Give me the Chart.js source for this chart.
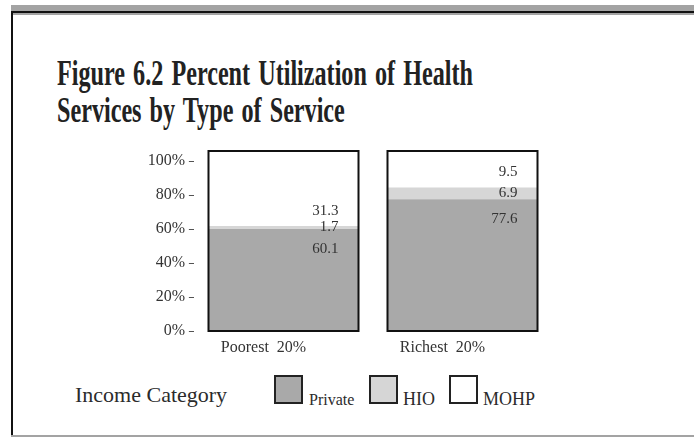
<!DOCTYPE html>
<html>
<head>
<meta charset="utf-8">
<script src="https://cdn.jsdelivr.net/npm/chart.js@4/dist/chart.umd.min.js"></script>
<style>
  body { margin: 0; width: 694px; height: 437px; background: #fff; position: relative; overflow: hidden;
         font-family: "Liberation Serif", "DejaVu Serif", serif; color: #2b2b2b; }
  .topbar { position: absolute; left: 11px; top: 5px; width: 683px; height: 10px; background: #a3a3a3; }
  .topbar::after { content: ''; position: absolute; left: 0; right: 0; top: 6px; height: 2px; background: #111; }
  .leftline { position: absolute; left: 11px; top: 11px; width: 2px; height: 424px; background: #111; }
  .bottomline { position: absolute; left: 11px; top: 435px; width: 683px; height: 2px; background: #a3a3a3; }
  #title { position: absolute; left: 57px; top: 55px; font-weight: bold; font-size: 35px; line-height: 37px;
           word-spacing: 3px; color: #222; transform-origin: 0 0; white-space: nowrap; }
  #chart-box { position: absolute; left: 0; top: 140px; width: 694px; height: 230px; }
  #legend { position: absolute; left: 0; top: 370px; width: 694px; height: 50px; }
  #legend .cat { position: absolute; left: 75px; top: 12px; font-size: 22px; }
  #legend .sw { position: absolute; top: 5px; width: 25px; height: 25px; border: 2px solid #222; }
  #legend .lbl { position: absolute; top: 19px; }
</style>
</head>
<body>
<div class="topbar"></div>
<div class="leftline"></div>
<div class="bottomline"></div>
<div id="title">Figure 6.2 Percent Utilization of Health<br>Services by Type of Service</div>
<div id="chart-box"><canvas id="chart"></canvas></div>
<div id="legend"><span class="cat">Income Category</span></div>
<script>
// income groups and share of visits by service type (%)
const categories = ['Poorest  20%', 'Richest  20%'];
const seriesNames = ['Private', 'HIO', 'MOHP'];
const privateVals = [60.1, 77.6];
const hioVals = [1.7, 6.9];
const mohpVals = [31.3, 9.5];
const yTicks = [0, 20, 40, 60, 80, 100];

const seriesColors = ['#a9a9a9', '#d6d6d6', '#ffffff'];
const serif = '"Liberation Serif", "DejaVu Serif", serif';

// squeeze the title into a condensed look
(function fitTitle() {
    const el = document.getElementById('title');
    const c = document.createElement('canvas').getContext('2d');
    c.font = 'bold 35px ' + serif;
    const line = 'Figure 6.2 Percent Utilization of Health';
    const w = c.measureText(line).width + 3 * (line.split(' ').length - 1);
    el.style.transform = 'scaleX(' + (416 / w) + ')';
})();

// legend: swatch + label for each series
const legendPos = [
    { box: 274, text: 309, size: 16 },
    { box: 369, text: 403, size: 18 },
    { box: 449, text: 483, size: 18 }
];
const legend = document.getElementById('legend');
seriesNames.forEach((name, i) => {
    const sw = document.createElement('span');
    sw.className = 'sw';
    sw.style.left = legendPos[i].box + 'px';
    sw.style.background = seriesColors[i];
    legend.appendChild(sw);
    const lbl = document.createElement('span');
    lbl.className = 'lbl';
    lbl.style.left = legendPos[i].text + 'px';
    lbl.style.fontSize = legendPos[i].size + 'px';
    lbl.style.marginTop = (18 - legendPos[i].size) + 'px';
    lbl.textContent = name;
    legend.appendChild(lbl);
});

// black frame around each bar column, running up to the top of the plot
const barFrame = {
    id: 'barFrame',
    afterDatasetsDraw(chart) {
        const ctx = chart.ctx;
        const y = chart.scales.y;
        const meta = chart.getDatasetMeta(0);
        ctx.save();
        ctx.strokeStyle = '#111';
        ctx.lineWidth = 2;
        meta.data.forEach(bar => {
            const half = bar.width / 2;
            ctx.strokeRect(bar.x - half, chart.chartArea.top, bar.width, y.getPixelForValue(0) - chart.chartArea.top);
        });
        ctx.restore();
    }
};

// value labels, right-aligned inside each column
const valueLabels = {
    id: 'valueLabels',
    afterDatasetsDraw(chart) {
        const ctx = chart.ctx;
        ctx.save();
        ctx.font = '15px ' + serif;
        ctx.fillStyle = '#333';
        ctx.textAlign = 'right';
        ctx.textBaseline = 'middle';
        chart.data.datasets.forEach((ds, di) => {
            chart.getDatasetMeta(di).data.forEach((bar, i) => {
                const top = Math.min(bar.y, bar.base);
                const bottom = Math.max(bar.y, bar.base);
                let ty;
                if (di === 0) ty = top + 20;
                else if (di === 1) ty = (top + bottom) / 2;
                else ty = bottom - 15;
                ctx.fillText(ds.data[i].toFixed(1), bar.x + bar.width / 2 - 20, ty);
            });
        });
        ctx.restore();
    }
};

const datasets = [privateVals, hioVals, mohpVals].map((vals, i) => ({
    label: seriesNames[i],
    data: vals,
    backgroundColor: seriesColors[i],
    borderWidth: 0,
    categoryPercentage: 1,
    barPercentage: 0.838
}));

new Chart(document.getElementById('chart'), {
    type: 'bar',
    data: { labels: categories, datasets: datasets },
    options: {
        responsive: true,
        maintainAspectRatio: false,
        animation: false,
        layout: { padding: { left: 140, right: 142, top: 11, bottom: 0 } },
        plugins: { legend: { display: false }, tooltip: { enabled: false } },
        scales: {
            x: {
                stacked: true,
                grid: { display: false, drawTicks: false },
                border: { display: false },
                ticks: { color: '#333', font: { family: serif, size: 16 }, padding: 7, labelOffset: -20 },
                afterFit(scale) { scale.height = 39; }
            },
            y: {
                stacked: true,
                min: 0,
                max: 106,
                grid: { display: false, drawTicks: false },
                border: { display: false },
                afterBuildTicks(scale) { scale.ticks = yTicks.map(v => ({ value: v })); },
                afterFit(scale) { scale.width = 54; },
                ticks: {
                    color: '#333',
                    font: { family: serif, size: 16 },
                    padding: -3,
                    callback: v => v + '% \u2013'
                }
            }
        }
    },
    plugins: [barFrame, valueLabels]
});
</script>
</body>
</html>
